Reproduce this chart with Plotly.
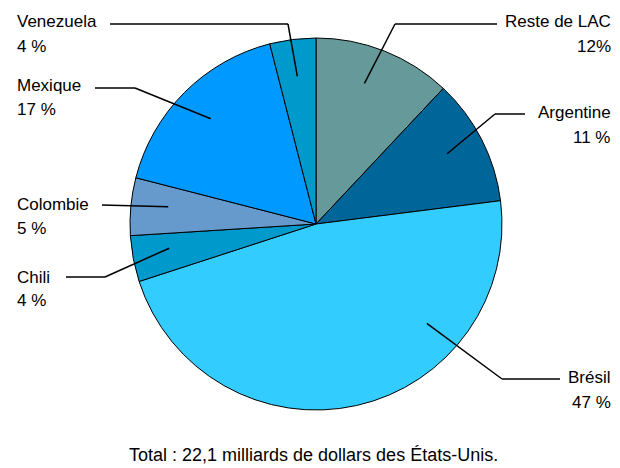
import math
import plotly.graph_objects as go

# ---- data ----
countries = ["Reste de LAC", "Argentine", "Brésil", "Chili", "Colombie", "Mexique", "Venezuela"]
shares = [12, 11, 47, 4, 5, 17, 4]
pct_labels = ["12%", "11 %", "47 %", "4 %", "5 %", "17 %", "4 %"]
colors = ["#669999", "#006699", "#33CCFF", "#0099CC", "#6699CC", "#0099FF", "#0099CC"]
note = "Total : 22,1 milliards de dollars des États-Unis."

# ---- layout constants (page pixels) ----
W, H = 620, 468
OFF = 8  # page body margin
CX, CY, R = 316, 224, 186
leader_frac = [0.44, 0.47, 0.29, 0.6, 0.57, 0.5, 0.5]
leader_rad = 0.8
# (side, text x, name y, pct y, line start x, elbow x, line y)
label_pos = [
    ("right", 613, 21, 46, 497, 395, 24),
    ("right", 613, 112, 137, 525, 495, 114),
    ("right", 613, 377, 402, 560, 502, 379),
    ("left", 15, 277, 300, 66, 105, 277),
    ("left", 15, 204, 228, 102, 102, 205),
    ("left", 15, 86, 109, 95, 135, 88),
    ("left", 15, 21, 46, 110, 288, 24),
]

def px(x):
    return (x - OFF) / W

def py(y):
    return 1 - (y - OFF) / H

fig = go.Figure(go.Pie(
    labels=countries, values=shares, sort=False, direction="clockwise", rotation=0,
    marker=dict(colors=colors, line=dict(color="black", width=1)),
    textinfo="none", hoverinfo="label+percent", showlegend=False,
    domain=dict(x=[px(CX - R), px(CX + R)], y=[py(CY + R), py(CY - R)]),
))

shapes = []
annotations = []
total = sum(shares)
cum = 0
font = dict(family="Liberation Sans, Arial, sans-serif", size=17, color="black")
for i, v in enumerate(shares):
    a0 = cum / total * 360
    a1 = (cum + v) / total * 360
    cum += v
    ang = math.radians(a0 + (a1 - a0) * leader_frac[i])
    ix = CX + leader_rad * R * math.sin(ang)
    iy = CY - leader_rad * R * math.cos(ang)
    side, tx, ny, pyy, lsx, ex, ly = label_pos[i]
    line = dict(color="black", width=1.5)
    if lsx != ex:
        shapes.append(dict(type="line", xref="paper", yref="paper",
                           x0=px(lsx), y0=py(ly), x1=px(ex), y1=py(ly), line=line))
    shapes.append(dict(type="line", xref="paper", yref="paper",
                       x0=px(ex), y0=py(ly), x1=px(ix), y1=py(iy), line=line))
    xanchor = "right" if side == "right" else "left"
    for txt, yy in ((countries[i], ny), (pct_labels[i], pyy)):
        annotations.append(dict(text=txt, x=px(tx), y=py(yy), xref="paper", yref="paper",
                                xanchor=xanchor, yanchor="middle", showarrow=False, font=font))

annotations.append(dict(text=note, x=px(313), y=py(455), xref="paper", yref="paper",
                        xanchor="center", yanchor="middle", showarrow=False,
                        font=dict(font, size=18)))

fig.update_layout(
    width=W, height=H, margin=dict(l=0, r=0, t=0, b=0),
    paper_bgcolor="white", plot_bgcolor="white",
    shapes=shapes, annotations=annotations,
)
fig.write_html("out.html")
